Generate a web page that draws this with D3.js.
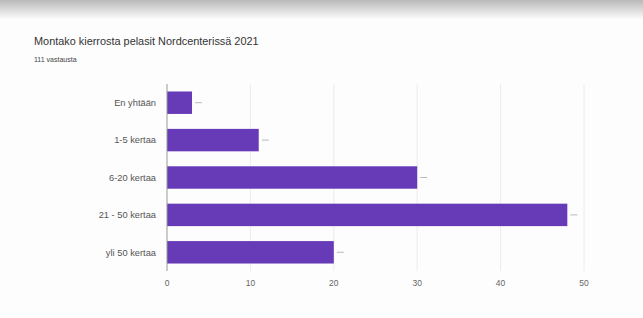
<!DOCTYPE html>
<html>
<head>
<meta charset="utf-8">
<script src="https://cdn.jsdelivr.net/npm/d3@7"></script>
<style>
  body { margin: 0; background: #fff; }
  svg { display: block; font-family: "Liberation Sans", Arial, sans-serif; }
</style>
</head>
<body>
<svg id="chart"></svg>
<script>
const categories = ["En yhtään", "1-5 kertaa", "6-20 kertaa", "21 - 50 kertaa", "yli 50 kertaa"];
const values = [3, 11, 30, 48, 20];
const tickValues = [0, 10, 20, 30, 40, 50];

const width = 643;
const height = 318;
const margin = {top: 84, right: 59, bottom: 47, left: 167};

const svg = d3.select("#chart")
    .attr("width", width)
    .attr("height", height);

// top shadow band of the screenshot
const defs = svg.append("defs");
const grad = defs.append("linearGradient")
    .attr("id", "topShade")
    .attr("x1", 0).attr("y1", 0).attr("x2", 0).attr("y2", 1);
grad.append("stop").attr("offset", "0%").attr("stop-color", "#b9b9b9");
grad.append("stop").attr("offset", "100%").attr("stop-color", "#ffffff");

svg.append("rect")
    .attr("width", width).attr("height", height)
    .attr("fill", "#fdfdfd");
svg.append("rect")
    .attr("width", width).attr("height", 20)
    .attr("fill", "url(#topShade)");

svg.append("text")
    .attr("x", 34).attr("y", 45)
    .attr("font-size", 10.9)
    .attr("fill", "#333")
    .text("Montako kierrosta pelasit Nordcenterissä 2021");

svg.append("text")
    .attr("x", 34).attr("y", 62)
    .attr("font-size", 7)
    .attr("fill", "#444")
    .text("111 vastausta");

const x = d3.scaleLinear()
    .domain([0, 50])
    .range([margin.left, width - margin.right]);

const y = d3.scaleBand()
    .domain(categories)
    .range([margin.top, height - margin.bottom])
    .paddingInner(0.4)
    .paddingOuter(0.2);

// gridlines
svg.append("g")
    .selectAll("line")
    .data(tickValues.slice(1))
    .join("line")
    .attr("x1", d => x(d)).attr("x2", d => x(d))
    .attr("y1", margin.top).attr("y2", height - margin.bottom)
    .attr("stroke", "#ececec")
    .attr("stroke-width", 1);

// bars
svg.append("g")
    .selectAll("rect")
    .data(values)
    .join("rect")
    .attr("x", x(0))
    .attr("y", (d, i) => y(categories[i]))
    .attr("width", d => x(d) - x(0))
    .attr("height", y.bandwidth())
    .attr("fill", "#673ab7");

// little value markers after each bar
svg.append("g")
    .selectAll("line")
    .data(values)
    .join("line")
    .attr("x1", d => x(d) + 3)
    .attr("x2", d => x(d) + 10)
    .attr("y1", (d, i) => y(categories[i]) + y.bandwidth() / 2)
    .attr("y2", (d, i) => y(categories[i]) + y.bandwidth() / 2)
    .attr("stroke", "#bbb")
    .attr("stroke-width", 1);

// baseline
svg.append("line")
    .attr("x1", x(0)).attr("x2", x(0))
    .attr("y1", margin.top).attr("y2", height - margin.bottom)
    .attr("stroke", "#999")
    .attr("stroke-width", 1);

// category labels
svg.append("g")
    .selectAll("text")
    .data(categories)
    .join("text")
    .attr("x", x(0) - 11)
    .attr("y", d => y(d) + y.bandwidth() / 2)
    .attr("dy", "0.35em")
    .attr("text-anchor", "end")
    .attr("font-size", 9.3)
    .attr("fill", "#555")
    .text(d => d);

// x tick labels
svg.append("g")
    .selectAll("text")
    .data(tickValues)
    .join("text")
    .attr("x", d => x(d))
    .attr("y", height - margin.bottom + 12)
    .attr("dy", "0.35em")
    .attr("text-anchor", "middle")
    .attr("font-size", 8.5)
    .attr("fill", "#666")
    .text(d => d);
</script>
</body>
</html>
